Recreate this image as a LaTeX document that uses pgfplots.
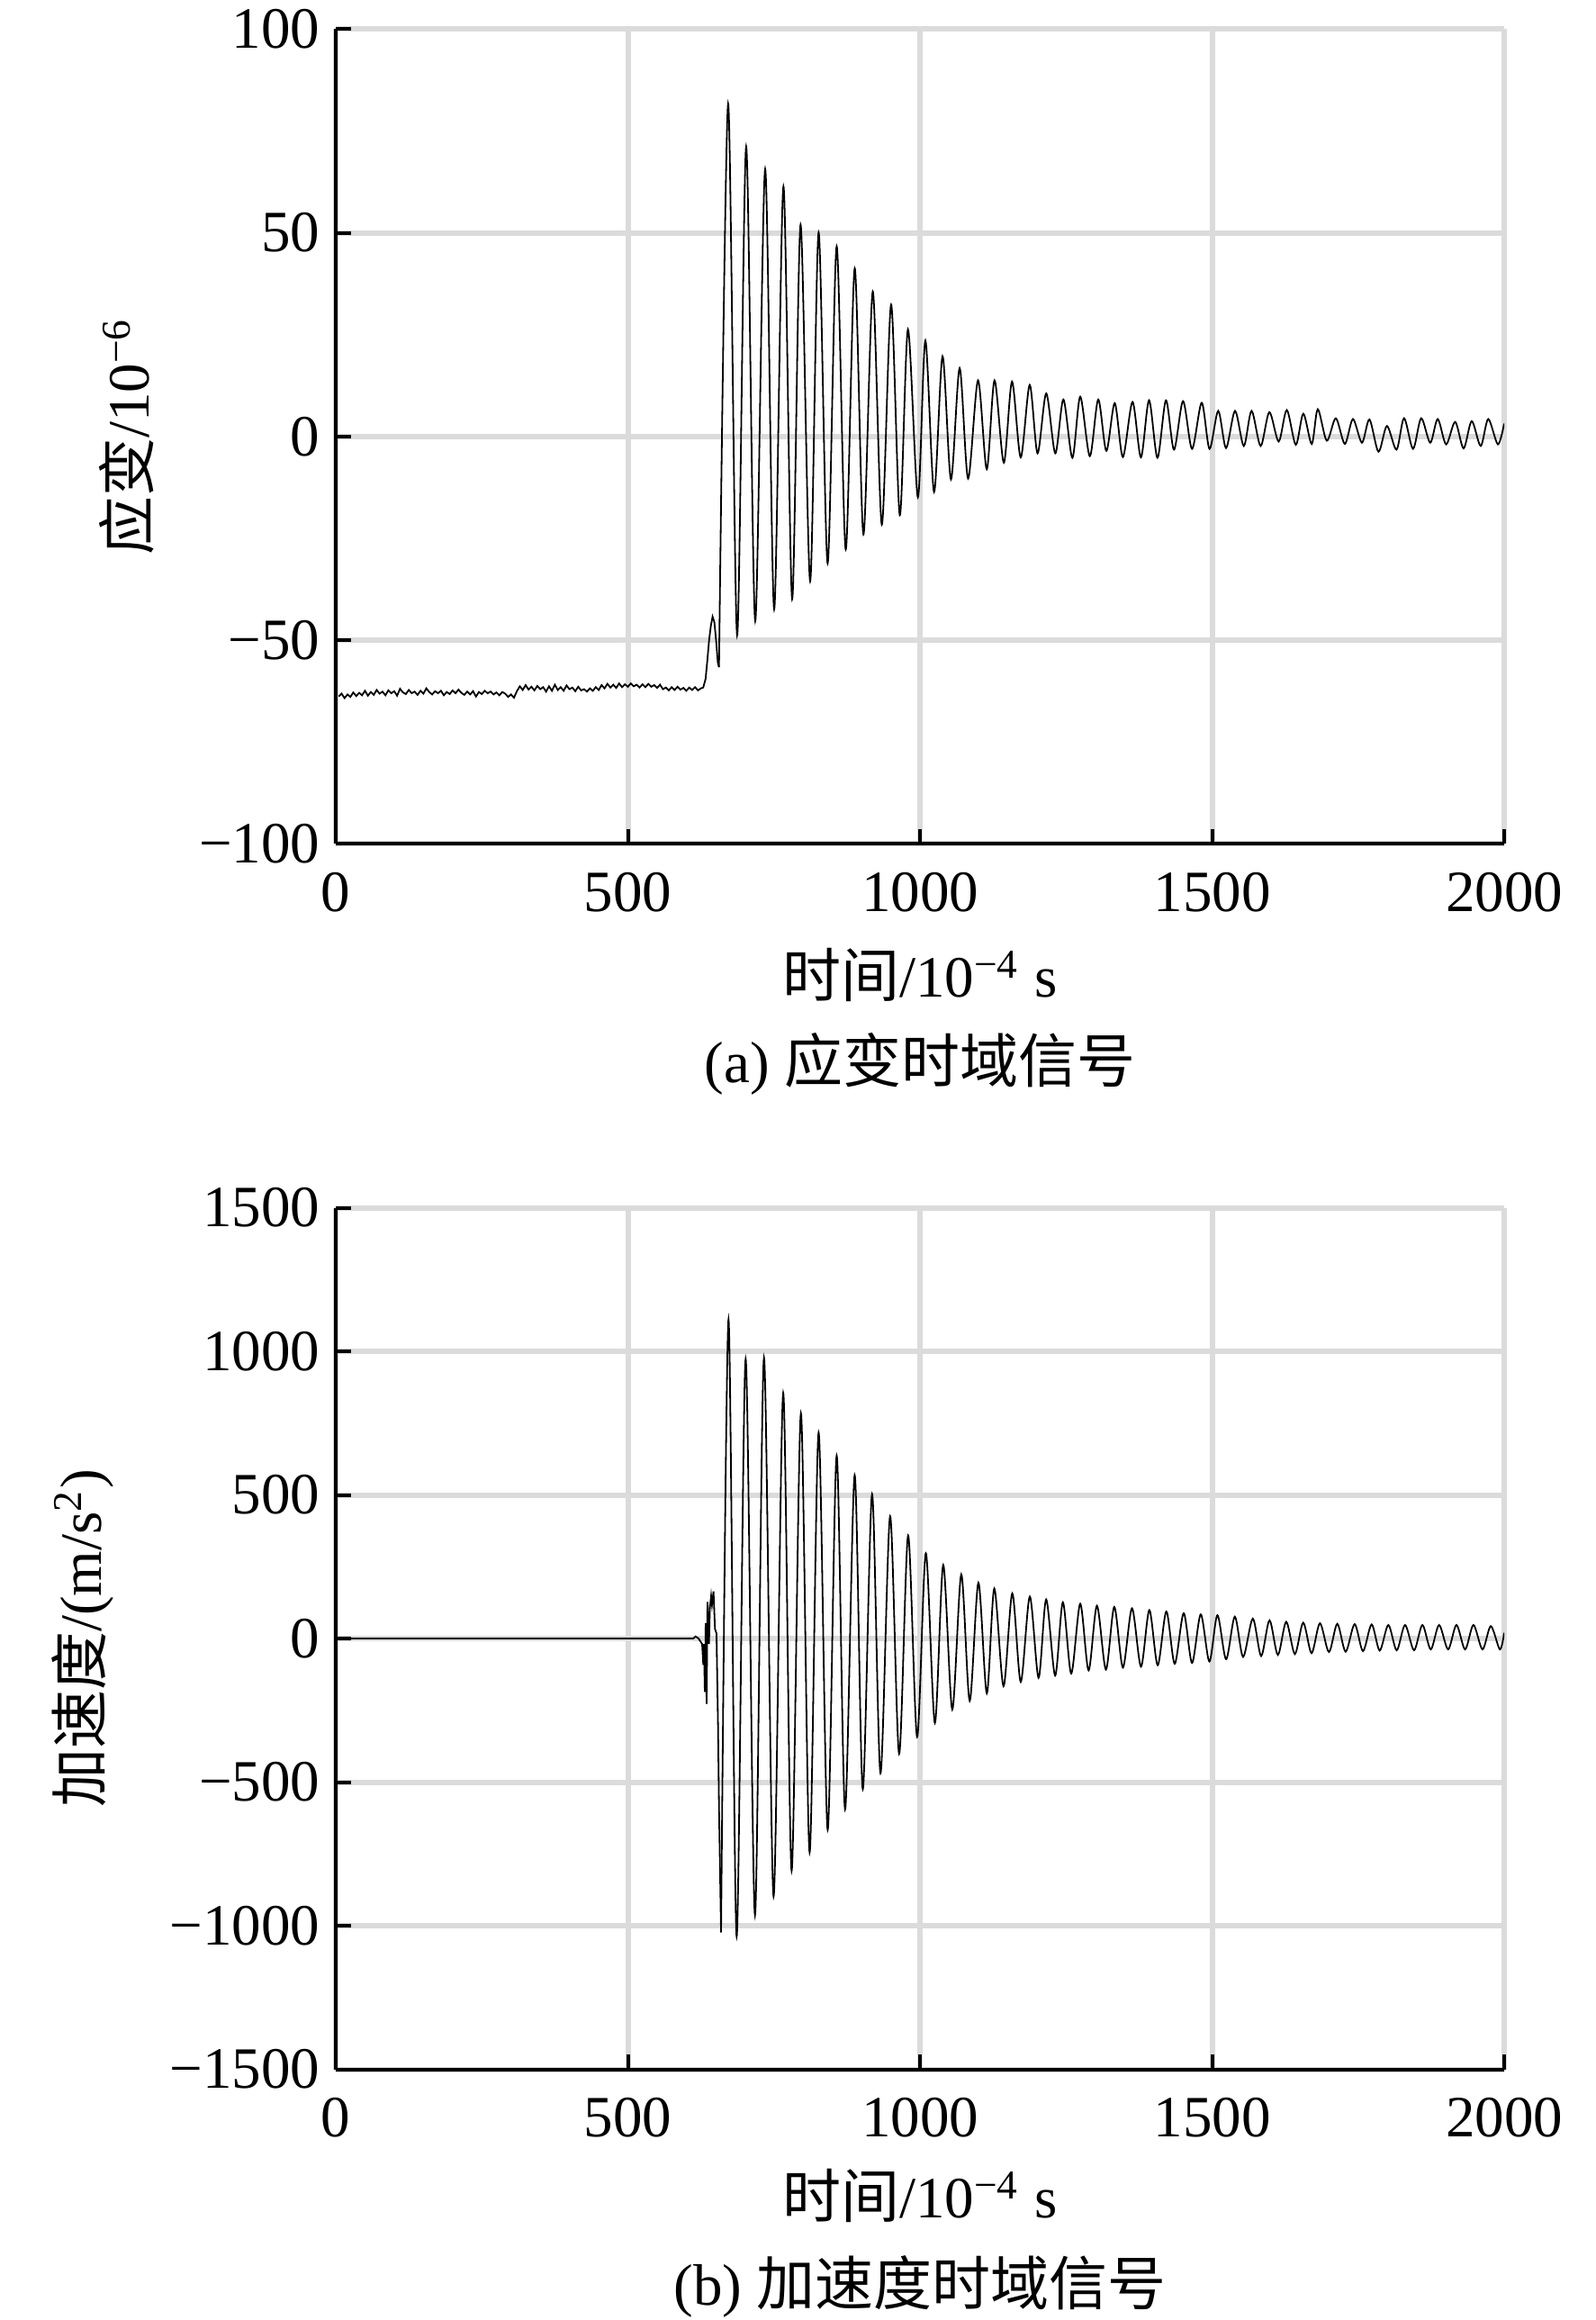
\documentclass[border=0pt]{standalone}
\usepackage{fontspec}
\setmainfont{Liberation Serif}
\newfontfamily\cjk{Noto Sans CJK SC}
\usepackage{pgfplots}
\pgfplotsset{compat=1.18}
\pgfplotsset{
  mystyle/.style={
    scale only axis, width=259.6pt,
    xmin=0, xmax=2000,
    xtick={0,500,1000,1500,2000},
    xticklabels={0,500,1000,1500,2000},
    axis x line*=bottom, axis y line*=left,
    tick align=inside, major tick length=3.3pt,
    tick style={black, line width=0.8pt},
    axis line style={line width=0.8pt, black},
    grid=major, major grid style={black!14, line width=1.2pt},
    tick label style={font=\fontsize{13}{15}\selectfont},
    label style={font=\fontsize{13}{15}\selectfont},
    xticklabel style={yshift=-2.9pt},
    xlabel={{\cjk 时间}/10\textsuperscript{−4} s},
  },
  sig/.style={black, line width=0.36pt, no markers},
}
\begin{document}
\begin{tikzpicture}
\path[use as bounding box] (0pt,0pt) rectangle (354.4pt,515.4pt);
% ---------------- (a) strain ----------------
\begin{axis}[mystyle,
  at={(74.6pt,327.9pt)}, anchor=south west, height=181pt,
  ymin=-100, ymax=100,
  ytick={-100,-50,0,50,100},
  yticklabels={−100,−50,0,50,100},
  ylabel={{\cjk 应变}/10\textsuperscript{−6}},
  ylabel style={at={(axis description cs:-0.1786,0.5)}, anchor=center},
  xlabel style={at={(axis description cs:0.5,-0.1613)}, anchor=center},
]
\addplot[sig] coordinates {
(5,-63.8) (10,-63.1) (15,-64.2) (20,-63.3) (25,-63.9) (30,-62.8) (35,-63.7) (40,-62.9)
(45,-63.5) (50,-62.4) (55,-63.6) (60,-62.7) (65,-63.4) (70,-62.2) (75,-63.1) (80,-62.6)
(85,-63.5) (90,-62.3) (95,-63.0) (100,-62.5) (105,-63.6) (110,-61.9) (115,-62.8) (120,-63.2)
(125,-62.2) (130,-63.0) (135,-62.6) (140,-63.4) (145,-62.4) (150,-63.1) (155,-61.8) (160,-62.7)
(165,-63.3) (170,-62.5) (175,-63.0) (180,-62.4) (185,-63.5) (190,-62.7) (195,-63.2) (200,-62.3)
(205,-63.0) (210,-62.1) (215,-62.9) (220,-63.4) (225,-62.6) (230,-63.3) (235,-62.5) (240,-63.8)
(245,-62.7) (250,-63.2) (255,-62.4) (260,-63.0) (265,-62.6) (270,-63.3) (275,-62.8) (280,-63.5)
(285,-62.7) (290,-63.1) (295,-63.9) (300,-63.3) (305,-64.1) (310,-62.5) (315,-61.3) (320,-62.2)
(325,-61.0) (330,-62.1) (335,-61.4) (340,-62.3) (345,-61.2) (350,-62.0) (355,-61.5) (360,-62.6)
(365,-61.3) (370,-62.4) (375,-60.9) (380,-62.2) (385,-61.5) (390,-62.4) (395,-61.1) (400,-62.0)
(405,-61.6) (410,-62.5) (415,-61.4) (420,-62.3) (425,-62.0) (430,-62.6) (435,-61.8) (440,-62.4)
(445,-61.5) (450,-62.2) (455,-61.0) (460,-61.8) (465,-60.7) (470,-61.6) (475,-60.9) (480,-61.7)
(485,-60.6) (490,-61.5) (495,-60.8) (500,-61.4) (505,-60.6) (510,-61.3) (515,-60.9) (520,-61.6)
(525,-60.8) (530,-61.5) (535,-60.7) (540,-61.4) (545,-61.0) (550,-61.7) (555,-60.9) (560,-62.0)
(565,-61.6) (570,-62.3) (575,-61.5) (580,-62.2) (585,-61.4) (590,-62.1) (595,-61.7) (600,-62.4)
(605,-61.6) (610,-62.2) (615,-61.5) (620,-62.3) (625,-61.8) (629,-61.6) (633,-59.5) (636,-55.0)
(639,-50.0) (642,-46.5) (645,-44.2) (648,-45.5) (651,-50.0) (654,-55.5) (656,-56.6)
};
\addplot[sig, smooth] coordinates {
(656,-56.6) (671.6,81.7) (687,-48.8) (702.5,71.2) (718,-45.3) (735,65.7) (750.4,-42.4)
(766.3,61.4) (781.2,-39.9) (795.6,52.0) (812,-35.5) (826.5,50.1) (841.9,-31.1) (857.4,46.7)
(872.9,-27.7) (888.3,41.3) (903.2,-24.0) (919.2,35.6) (934.7,-21.6) (950.6,32.4) (965.5,-19.3)
(979.4,26.3) (996.4,-14.9) (1009.2,23.6) (1024.1,-13.6) (1038.6,19.7) (1053,-10.5) (1067.9,16.8)
(1082.3,-10.3) (1099.3,13.8) (1114.3,-8.0) (1127.6,13.8) (1143.5,-6.4) (1157.5,13.5) (1172.4,-5.1)
(1187.8,12.7) (1201.2,-4.1) (1216.1,10.6) (1231.6,-4.1) (1245.5,9.1) (1260.9,-5.2) (1274.3,9.8)
(1290.7,-4.8) (1305.1,9.1) (1319,-3.5) (1333.4,8.2) (1347.3,-5.0) (1363.8,8.5) (1378.2,-5.1)
(1392.1,8.9) (1406.5,-5.2) (1421,8.9) (1434.8,-3.2) (1450.3,8.7) (1465.7,-3.0) (1482.2,8.3)
(1495.6,-3.0) (1510.5,6.3) (1523.9,-2.8) (1539.3,6.3) (1554.3,-2.3) (1567.6,6.3) (1583.1,-2.3)
(1598,6.0) (1614,-1.2) (1627.9,6.5) (1643.3,-2.0) (1656.2,5.6) (1670.6,-1.8) (1680.9,6.7)
(1696.3,-1.0) (1711.8,4.5) (1727.2,-1.8) (1741.1,4.3) (1756.5,-1.5) (1769.4,4.2) (1784.8,-3.7)
(1799.3,2.6) (1815.7,-3.2) (1828.6,4.5) (1844,-3.0) (1857.9,4.5) (1873.4,-1.5) (1886.2,4.3)
(1900.6,-1.9) (1916.1,3.6) (1930.5,-2.9) (1944.4,3.8) (1959.8,-2.3) (1972.7,4.3) (1989.2,-1.9)
(2000,3.2)
};
\end{axis}
\node[font=\fontsize{13}{15}\selectfont] at (204.4pt,279pt) {(a) {\cjk 应变时域信号}};
% ---------------- (b) acceleration ----------------
\begin{axis}[mystyle,
  at={(74.6pt,55.7pt)}, anchor=south west, height=191.4pt,
  ymin=-1500, ymax=1500,
  ytick={-1500,-1000,-500,0,500,1000,1500},
  yticklabels={−1500,−1000,−500,0,500,1000,1500},
  ylabel={{\cjk 加速度}/(m/s\textsuperscript{2})},
  ylabel style={at={(axis description cs:-0.2167,0.5)}, anchor=center},
  xlabel style={at={(axis description cs:0.5,-0.1473)}, anchor=center},
]
\addplot[sig] coordinates {
(5,0) (612,0) (615.8,7) (621,0) (623.5,-8) (627.1,-19) (629.1,-92) (630.2,-19) (631.7,-186)
(633.2,54) (634.8,-228) (636.3,127) (638.9,-19) (640.4,107) (642.5,148) (644,117) (646.6,164)
(649.1,33) (651.7,18) (654.3,-300) (656,-587) (659.5,-1023)
};
\addplot[sig, smooth] coordinates {
(659.5,-1023) (672.3,1111) (686.2,-1038) (701.6,973) (717.6,-964) (733.0,978) (749.4,-898)
(765.9,855) (780.3,-809) (796.2,784) (811.1,-745) (826.5,717) (842.0,-666) (857.4,637)
(871.8,-595) (888.2,569) (902.1,-525) (918.0,503) (932.4,-469) (948.9,426) (964.3,-402)
(979.7,359) (995.1,-343) (1010.0,297) (1025.5,-294) (1039.8,256) (1055.3,-247) (1070.7,223)
(1085.1,-217) (1100.0,194) (1114.4,-191) (1127.2,174) (1143,-166) (1158,157) (1172.5,-151)
(1188,146) (1203,-137) (1216,136) (1231.4,-129) (1244.6,126) (1258.9,-122) (1274.3,121)
(1288.6,-111) (1302.9,114) (1318.3,-108) (1332.6,110) (1347.4,-101) (1362.9,105) (1378.3,-98)
(1392.6,99) (1406.9,-93) (1421.7,94) (1436,-88) (1451.4,88) (1465.7,-85) (1480.6,84)
(1495.4,-80) (1509.1,81) (1524,-72) (1538.9,76) (1553.1,-64) (1569.7,69) (1584,-61)
(1598.3,63) (1612.6,-57) (1626.9,58) (1641.7,-54) (1656,55) (1670.3,-51) (1684.6,53)
(1700,-47) (1714.3,51) (1728.6,-46) (1744,50) (1758.3,-44) (1773.1,49) (1786.9,-42)
(1801.7,47) (1816,-41) (1830.3,47) (1845.7,-41) (1860,47) (1874.3,-38) (1888.6,47)
(1904,-38) (1918.3,47) (1933.1,-38) (1947.4,47) (1962.9,-38) (1977.1,43) (1992.6,-38)
(2000,20)
};
\end{axis}
\node[font=\fontsize{13}{15}\selectfont] at (204.4pt,7.4pt) {(b) {\cjk 加速度时域信号}};
\end{tikzpicture}
\end{document}
